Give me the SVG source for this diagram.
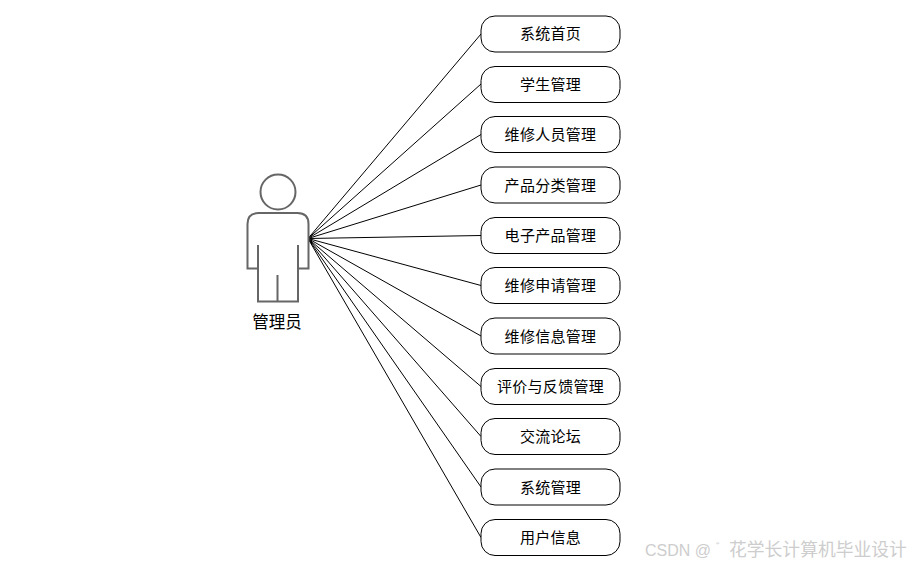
<svg xmlns="http://www.w3.org/2000/svg" width="911" height="565" viewBox="0 0 911 565">
<style>
.n{fill:#fff;stroke:#000;stroke-width:1}
.t{font-family:"Noto Sans CJK SC","Liberation Sans",sans-serif;font-size:15px;letter-spacing:.3px;fill:#000;text-anchor:middle}
.c{stroke:#000;stroke-width:1;fill:none}
.a{fill:#fff;stroke:#666;stroke-width:2}
.w{font-family:"Liberation Sans","Noto Sans CJK SC",sans-serif;fill:#cdcdcd}
</style>
<rect width="911" height="565" fill="#fff"/>
<g id="connectors" class="c">
<path d="M308 238.500L481 34"/><path d="M308 238.500L481 84"/><path d="M308 238.500L481 134.500"/><path d="M308 238.500L481 185"/><path d="M308 238.500L481 235.500"/><path d="M308 238.500L481 285.500"/><path d="M308 238.500L481 336"/><path d="M308 238.500L481 386.500"/><path d="M308 238.500L481 436.500"/><path d="M308 238.500L481 487"/><path d="M308 238.500L481 537.500"/>
</g>
<g id="actor">
<circle class="a" cx="278" cy="192" r="17.500"/>
<path class="a" d="M258 301.500V268.500H247.500V224Q247.500 213 258.500 213H297.500Q308.500 213 308.500 224V268.500H298V301.500Z"/>
<path class="a" d="M258 245V268.500M298 245V268.500M277.500 275V301.500" fill="none"/>
<text class="t" x="277" y="328" style="font-size:16.500px;letter-spacing:0">管理员</text>
</g>
<g id="n1"><rect class="n" x="481" y="16" width="139" height="36" rx="14"/><text class="t" x="550.500" y="39">系统首页</text></g>
<g id="n2"><rect class="n" x="481" y="66.500" width="139" height="36" rx="14"/><text class="t" x="550.500" y="90">学生管理</text></g>
<g id="n3"><rect class="n" x="481" y="116.500" width="139" height="36" rx="14"/><text class="t" x="550.500" y="140">维修人员管理</text></g>
<g id="n4"><rect class="n" x="481" y="167" width="139" height="36" rx="14"/><text class="t" x="550.500" y="191">产品分类管理</text></g>
<g id="n5"><rect class="n" x="481" y="217.500" width="139" height="36" rx="14"/><text class="t" x="550.500" y="241">电子产品管理</text></g>
<g id="n6"><rect class="n" x="481" y="267.500" width="139" height="36" rx="14"/><text class="t" x="550.500" y="291">维修申请管理</text></g>
<g id="n7"><rect class="n" x="481" y="318" width="139" height="36" rx="14"/><text class="t" x="550.500" y="342">维修信息管理</text></g>
<g id="n8"><rect class="n" x="481" y="368.500" width="139" height="36" rx="14"/><text class="t" x="550.500" y="392">评价与反馈管理</text></g>
<g id="n9"><rect class="n" x="481" y="418.500" width="139" height="36" rx="14"/><text class="t" x="550.500" y="442">交流论坛</text></g>
<g id="n10"><rect class="n" x="481" y="469" width="139" height="36" rx="14"/><text class="t" x="550.500" y="493">系统管理</text></g>
<g id="n11"><rect class="n" x="481" y="519.500" width="139" height="36" rx="14"/><text class="t" x="550.500" y="543">用户信息</text></g>
<text class="w" x="645" y="556" font-size="16">CSDN @ <tspan x="716" y="552" font-size="11">゛</tspan><tspan x="729" y="556" font-size="17.800">花学长计算机毕业设计</tspan></text>
</svg>
